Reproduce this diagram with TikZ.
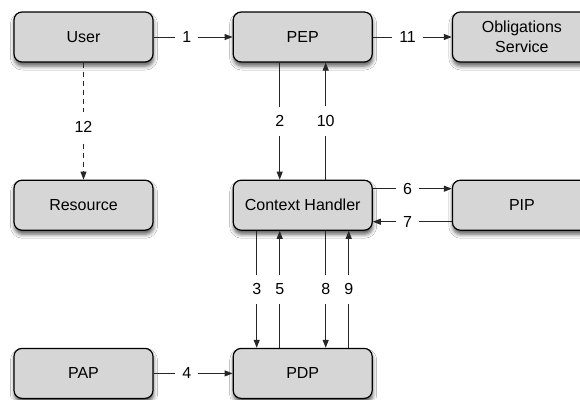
\documentclass[tikz,border=0pt]{standalone}
\usepackage{fontspec}
\setmainfont{Liberation Sans}
\usetikzlibrary{arrows.meta,positioning,shadows.blur}
\tikzset{
  entity/.style={draw=black, fill=black!16, line width=1.2pt, rounded corners=8pt, align=center, minimum width=139pt, minimum height=50pt, inner sep=2pt, font=\fontsize{16}{20}\selectfont, blur shadow={shadow xshift=0.5pt, shadow yshift=-4pt, shadow blur radius=4pt, shadow opacity=65}},
  flow/.style={-{Triangle[length=8pt,width=6pt]}, line width=1pt, draw=black!85},
  dashedflow/.style={flow, dash pattern=on 5pt off 4pt},
  num/.style={fill=white, inner xsep=7pt, inner ysep=9pt, font=\fontsize{16}{20}\selectfont}
}
\begin{document}
\begin{tikzpicture}[node distance=117pt and 79pt]
\path[use as bounding box, fill=white] (0,0) rectangle (580pt,-399pt);
\clip (0,0) rectangle (580pt,-399pt);
% top row
\node[entity] (user) at (83.5pt,-37pt) {User};
\node[entity, right=of user] (pep) {PEP};
\node[entity, right=of pep] (obl) {Obligations\\Service};
% middle row
\node[entity, below=of user] (res) {Resource};
\node[entity, below=of pep] (ctx) {Context Handler};
\node[entity, below=of obl] (pip) {PIP};
% bottom row
\node[entity, below=of res] (pap) {PAP};
\node[entity, below=of ctx] (pdp) {PDP};
% requests and answers
\draw[flow] (user) -- node[num, pos=0.42] {1} (pep);
\draw[flow] (pep) -- node[num, pos=0.44] {11} (obl);
\draw[dashedflow] (user) -- node[num, pos=0.55] {12} (res);
\draw[flow] ([xshift=-23pt]pep.south) -- node[num] {2} ([xshift=-23pt]ctx.north);
\draw[flow] ([xshift=23pt]ctx.north) -- node[num] {10} ([xshift=23pt]pep.south);
\draw[flow] ([yshift=16.5pt]ctx.east) -- node[num, pos=0.44] {6} ([yshift=16.5pt]pip.west);
\draw[flow] ([yshift=-16.5pt]pip.west) -- node[num, pos=0.56] {7} ([yshift=-16.5pt]ctx.east);
\draw[flow] ([xshift=-46pt]ctx.south) -- node[num] {3} ([xshift=-46pt]pdp.north);
\draw[flow] ([xshift=-23pt]pdp.north) -- node[num] {5} ([xshift=-23pt]ctx.south);
\draw[flow] ([xshift=23pt]ctx.south) -- node[num] {8} ([xshift=23pt]pdp.north);
\draw[flow] ([xshift=46pt]pdp.north) -- node[num] {9} ([xshift=46pt]ctx.south);
\draw[flow] (pap) -- node[num, pos=0.42] {4} (pdp);
\end{tikzpicture}
\end{document}
